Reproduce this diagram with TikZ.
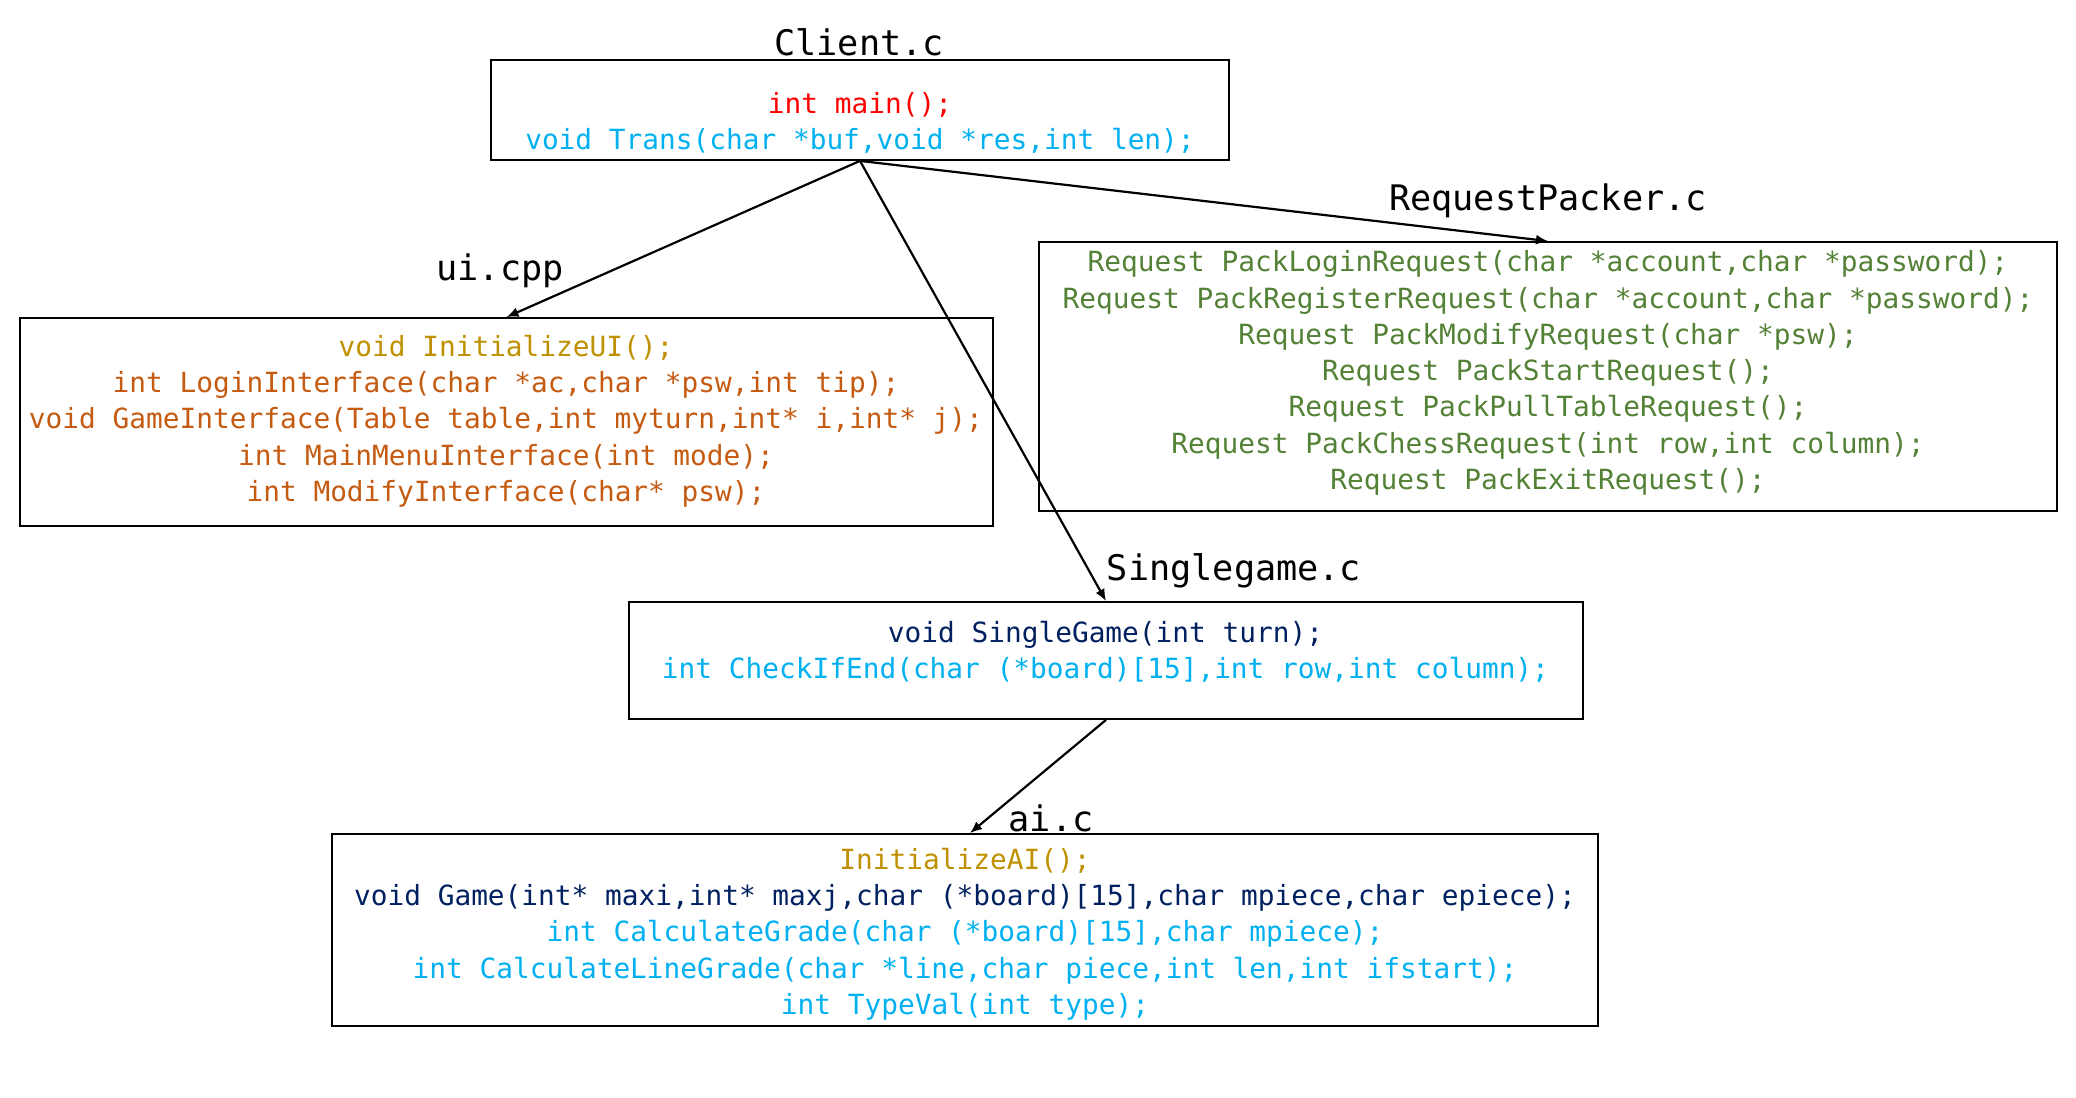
\documentclass[tikz,border=0pt]{standalone}
\usepackage{fontspec}
\setmonofont{DejaVu Sans Mono}
\usetikzlibrary{arrows.meta}
\definecolor{fnred}{HTML}{FF0000}
\definecolor{fncyan}{HTML}{00B0F0}
\definecolor{fngold}{HTML}{BF9000}
\definecolor{fnorange}{HTML}{C55A11}
\definecolor{fngreen}{HTML}{538135}
\definecolor{fnnavy}{HTML}{002060}
\newcommand{\codefont}{\ttfamily\fontsize{13.9}{18.15}\selectfont}
\newcommand{\filefont}{\ttfamily\fontsize{17.6}{21}\selectfont}
\begin{document}
\begin{tikzpicture}[x=0.5pt, y=-0.5pt,
  box/.style={draw, line width=0.9pt, inner sep=0pt},
  code/.style={font=\codefont, align=center, inner sep=0pt},
  file/.style={font=\filefont, inner sep=0pt},
  link/.style={-{Latex[length=6pt,width=5pt]}, line width=1.1pt}]
\useasboundingbox (0,0) rectangle (2076,1097);
% Client.c: entry point
\node[file] (clientname) at (859,42) {Client.c};
\node[box, minimum width=369pt, minimum height=50pt] (client) at (860,110) {};
\node[code] (clientcode) at (860,123)
  {\color{fnred}int main();\\
   \color{fncyan}void Trans(char *buf,void *res,int len);};
% ui.cpp: interface functions
\node[file] (uiname) at (500,271) {ui.cpp};
\node[box, minimum width=486.5pt, minimum height=104pt] (ui) at (506.5,422) {};
\node[code] (uicode) at (506,421)
  {\color{fngold}void InitializeUI();\\
   \color{fnorange}int LoginInterface(char *ac,char *psw,int tip);\\
   \color{fnorange}void GameInterface(Table table,int myturn,int* i,int* j);\\
   \color{fnorange}int MainMenuInterface(int mode);\\
   \color{fnorange}int ModifyInterface(char* psw);};
% RequestPacker.c: request builders
\node[file] (reqname) at (1548,201) {RequestPacker.c};
\node[box, minimum width=509pt, minimum height=134.5pt] (req) at (1548,376.5) {};
\node[code, text=fngreen] (reqcode) at (1548,373)
  {Request PackLoginRequest(char *account,char *password);\\
   Request PackRegisterRequest(char *account,char *password);\\
   Request PackModifyRequest(char *psw);\\
   Request PackStartRequest();\\
   Request PackPullTableRequest();\\
   Request PackChessRequest(int row,int column);\\
   Request PackExitRequest();};
% Singlegame.c: local game loop
\node[file] (singlename) at (1234,571) {Singlegame.c};
\node[box, minimum width=477pt, minimum height=58.5pt] (single) at (1106,660.5) {};
\node[code] (singlecode) at (1105.5,651.5)
  {\color{fnnavy}void SingleGame(int turn);\\
   \color{fncyan}int CheckIfEnd(char (*board)[15],int row,int column);};
% ai.c: computer player
\node[file] (ainame) at (1051,818) {ai.c};
\node[box, minimum width=633pt, minimum height=96pt] (ai) at (965,930) {};
\node[code] (aicode) at (965,934)
  {\color{fngold}InitializeAI();\\
   \color{fnnavy}void Game(int* maxi,int* maxj,char (*board)[15],char mpiece,char epiece);\\
   \color{fncyan}int CalculateGrade(char (*board)[15],char mpiece);\\
   \color{fncyan}int CalculateLineGrade(char *line,char piece,int len,int ifstart);\\
   \color{fncyan}int TypeVal(int type);};
% calls between files
\draw[link] (client.south) -- (ui.north);
\draw[link] (client.south) -- (req.north);
\draw[link] (client.south) -- (single.north);
\draw[link] (single.south) -- ([xshift=2.5pt]ai.north);
\end{tikzpicture}
\end{document}
